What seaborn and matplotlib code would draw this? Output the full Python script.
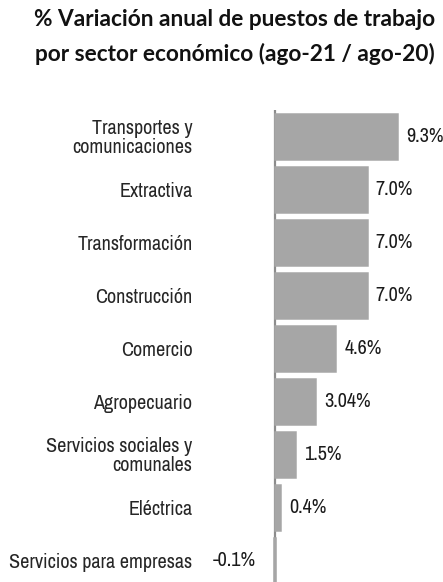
import matplotlib
matplotlib.use("Agg")
import matplotlib.pyplot as plt
from matplotlib import font_manager
import pandas as pd
import seaborn as sns

sectores = [
    "Transportes y\ncomunicaciones",
    "Extractiva",
    "Transformación",
    "Construcción",
    "Comercio",
    "Agropecuario",
    "Servicios sociales y\ncomunales",
    "Eléctrica",
    "Servicios para empresas",
]
variacion = [9.3, 7.0, 7.0, 7.0, 4.6, 3.04, 1.5, 0.4, -0.1]
etiquetas = ["9.3%", "7.0%", "7.0%", "7.0%", "4.6%", "3.04%", "1.5%", "0.4%", "-0.1%"]

sns.set_theme(style="white")

# narrow font if one is installed, otherwise plain Liberation Sans at a smaller size
narrow = sorted({f.name for f in font_manager.fontManager.ttflist
                 if "Narrow" in f.name or "Condensed" in f.name})
if narrow:
    plt.rcParams["font.family"] = [narrow[0], "DejaVu Sans"]
    fs = 14.5
else:
    plt.rcParams["font.family"] = ["Liberation Sans", "DejaVu Sans"]
    fs = 11.5

df = pd.DataFrame({"sector": sectores, "var": variacion})
colores = ["#a6a6a6" if v >= 0 else "#3b5b4f" for v in variacion]

fig = plt.figure(figsize=(4.43, 5.82), dpi=100)
ax = fig.add_axes([272.4 / 443, 0.0, 160 / 443, 472 / 582])

ax.axvline(0, color="#8c8c8c", lw=1.6, zorder=0)
sns.barplot(data=df, y="sector", x="var", hue="sector", palette=colores,
            orient="h", width=0.85, legend=False, ax=ax, saturation=1,
            edgecolor=colores, linewidth=1.8, zorder=3)

ax.set_xlim(-0.2, 12.0)
ax.set_ylim(8.41, -0.5)
for s in ax.spines.values():
    s.set_visible(False)
ax.set_xticks([])
ax.set_xlabel("")
ax.set_ylabel("")
ax.tick_params(axis="y", length=0, pad=80 * 0.72, labelsize=fs)
for t in ax.get_yticklabels():
    t.set_horizontalalignment("right")
    t.set_linespacing(0.95)

for i, (v, lab) in enumerate(zip(variacion, etiquetas)):
    if v >= 0:
        ax.annotate(lab, (v, i), xytext=(6.5, 0), textcoords="offset points",
                    ha="left", va="center", fontsize=fs, color="#1a1a1a")
    else:
        ax.annotate(lab, (0, i), xytext=(-14, 0), textcoords="offset points",
                    ha="right", va="center", fontsize=fs, color="#1a1a1a")

fig.text(235 / 443, 1 - 37 / 582,
         "% Variación anual de puestos de trabajo\npor sector económico (ago-21 / ago-20)",
         ha="center", va="center", fontsize=16.3, fontweight="bold",
         family=["Lato", "DejaVu Sans"], linespacing=1.7, color="#111111")

fig.savefig("out.png", dpi=100)
